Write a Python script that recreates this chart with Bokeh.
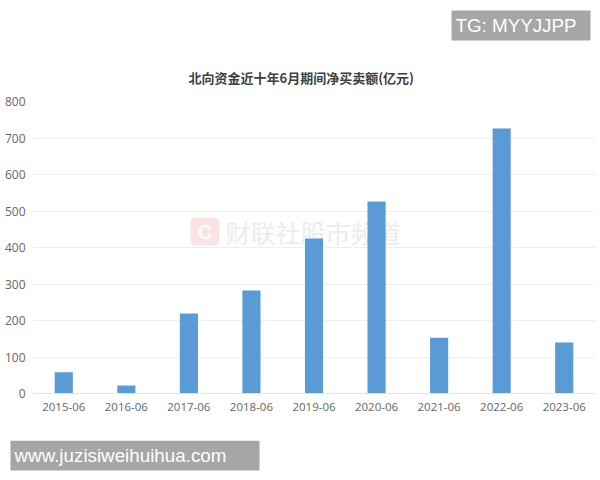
from bokeh.plotting import figure
from bokeh.layouts import column
from bokeh.embed import file_html
from bokeh.resources import INLINE
from bokeh.models import ColumnDataSource, Label, BoxAnnotation, FixedTicker, Range1d

months = ["2015-06","2016-06","2017-06","2018-06","2019-06","2020-06","2021-06","2022-06","2023-06"]
net_buy = [58, 22, 219, 282, 425, 526, 153, 726, 140]
y_ticks = [0,100,200,300,400,500,600,700,800]
title_text = "北向资金近十年6月期间净买卖额(亿元)"
watermark = "财联社股市频道"
badge_top = "TG: MYYJJPP"
badge_bottom = "www.juzisiweihuihua.com"

W = 600
TOP_H, MAIN_H, BOT_H = 50, 390, 40

def strip(height):
    f = figure(width=W, height=height, output_backend="svg", toolbar_location=None,
               x_range=Range1d(0, W), y_range=Range1d(0, height),
               x_axis_type=None, y_axis_type=None, frame_align=False,
               min_border=0, min_border_left=0, min_border_right=0, min_border_top=0, min_border_bottom=0,
               background_fill_color="white", border_fill_color="white")
    f.outline_line_color = None
    f.grid.visible = False
    return f

def box(fig, l, t, r, b, color, radius=0, level="annotation"):
    fig.add_layout(BoxAnnotation(left=l, right=r, top=t, bottom=b,
                                 left_units="canvas", right_units="canvas",
                                 top_units="canvas", bottom_units="canvas",
                                 fill_color=color, fill_alpha=1.0, line_color=None, border_radius=radius,
                                 level=level))

def text(fig, x, y, s, size, color, font="Liberation Sans", align="left", weight="normal", level="annotation"):
    fig.add_layout(Label(x=x, y=y, x_units="canvas", y_units="canvas", text=s,
                         text_font=font, text_font_size=size, text_color=color,
                         text_align=align, text_baseline="middle", text_font_style=weight,
                         level=level))

top = strip(TOP_H)
box(top, 451, 10, 590, 40, "#a6a6a6")
text(top, 455, 25, badge_top, "18.8px", "#ffffff")

bot = strip(BOT_H)
box(bot, 10, 0, 259, 30, "#a6a6a6")
text(bot, 14, 15, badge_bottom, "18.8px", "#ffffff")

p = figure(x_range=months, y_range=(0, 800), width=W, height=MAIN_H, output_backend="svg",
           toolbar_location=None, background_fill_color="white", border_fill_color="white",
           frame_align=False,
           min_border_left=32, min_border_right=5, min_border_top=51, min_border_bottom=47)
p.outline_line_color = None
p.title.text = title_text
p.title.text_font = "Noto Sans CJK SC"
p.title.text_font_size = "13px"
p.title.text_font_style = "bold"
p.title.text_color = "#404040"
p.title.align = "left"
p.title.offset = 156
p.title.standoff = 30

src = ColumnDataSource(dict(m=months, v=net_buy))

box(p, 190, 167, 219, 195, "#fbe3e3", radius=5, level="underlay")
text(p, 204.5, 181, "C", "20px", "#ffffff", align="center", weight="bold", level="underlay")
text(p, 225, 181, watermark, "25px", "#ececec", font="Noto Sans CJK SC", level="underlay")

p.vbar(x="m", top="v", width=0.29, bottom=0, source=src, fill_color="#5b9bd5", line_color=None)

p.xgrid.grid_line_color = None
p.ygrid.grid_line_color = "#eeeeee"
p.ygrid.ticker = FixedTicker(ticks=y_ticks)
p.yaxis.ticker = FixedTicker(ticks=y_ticks)
p.yaxis.axis_line_color = None
p.yaxis.major_tick_line_color = None
p.yaxis.minor_tick_line_color = None
p.yaxis.major_tick_out = 0
p.yaxis.major_tick_in = 0
p.xaxis.major_tick_out = 0
p.xaxis.major_tick_in = 0
p.xaxis.axis_line_color = "#e4e4e4"
p.xaxis.major_tick_line_color = None
p.yaxis.major_label_standoff = 7
p.xaxis.major_label_standoff = 9
for ax in (p.xaxis, p.yaxis):
    ax.major_label_text_font = "Open Sans"
    ax.major_label_text_color = "#666666"
p.xaxis.major_label_text_font_size = "11.5px"
p.yaxis.major_label_text_font_size = "12px"

layout = column(top, p, bot, spacing=0)
open("out.html", "w").write(file_html(layout, INLINE))
